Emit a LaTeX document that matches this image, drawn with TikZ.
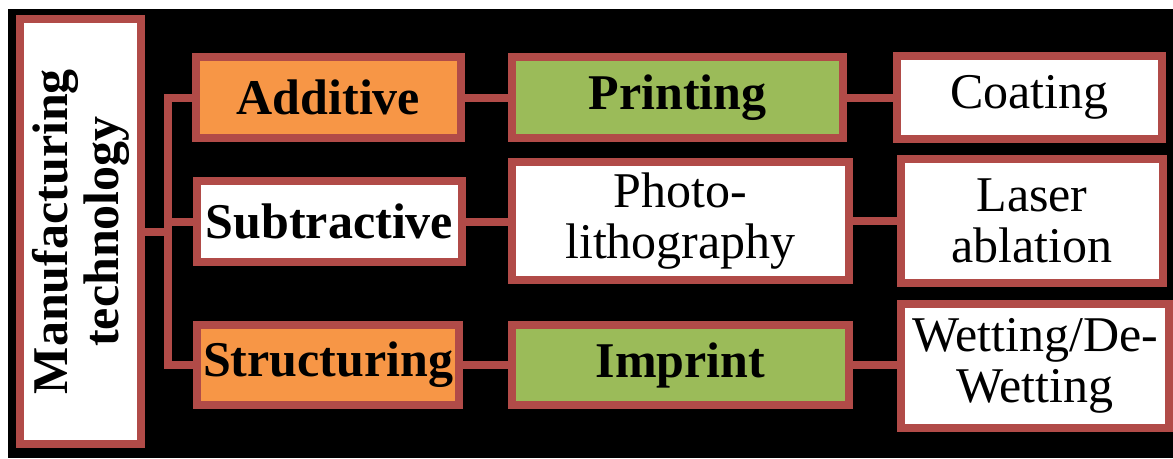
\documentclass[tikz,border=0pt]{standalone}
\usepackage{fontspec}
\setmainfont{Liberation Serif}
\definecolor{edge}{HTML}{B14B48}
\definecolor{orangefill}{HTML}{F79646}
\definecolor{greenfill}{HTML}{9BBB59}
\begin{document}
\begin{tikzpicture}[x=1pt,y=-1pt,
  box/.style={draw=edge,line width=8pt,fill=white,inner sep=0pt,align=center,
    font=\fontsize{50}{51}\selectfont},
  boldbox/.style={box,font=\fontsize{50}{51}\selectfont\bfseries},
  link/.style={draw=edge,line width=8pt,line join=miter}]
  \useasboundingbox (0,0) rectangle (1173,458);
  \fill[black] (8,9) rectangle (1173,458);

  % root (rotated: width runs along the text)
  \node[boldbox,minimum width=425pt,minimum height=121pt,rotate=90] (root) at (80.5,231.5)
    {Manufacturing\\technology};

  % first level
  \node[boldbox,fill=orangefill,minimum width=265pt,minimum height=81pt] (add) at (328.5,97.5) {Additive};
  \node[boldbox,minimum width=265pt,minimum height=81pt] (sub) at (329.5,221.5) {Subtractive};
  \node[boldbox,fill=orangefill,minimum width=262pt,minimum height=80pt] (str) at (328,365) {Structuring};

  % second level
  \node[boldbox,fill=greenfill,minimum width=331pt,minimum height=81pt] (print) at (677.5,97.5) {Printing};
  \node[box,minimum width=337pt,minimum height=118pt] (photo) at (680.5,221) {Photo-\\lithography};
  \node[boldbox,fill=greenfill,minimum width=337pt,minimum height=80pt] (imprint) at (680.5,365) {Imprint};

  % third level
  \node[box,minimum width=265pt,minimum height=83pt] (coat) at (1029.5,97.5) {Coating};
  \node[box,minimum width=262pt,minimum height=124pt] (laser) at (1032,221) {Laser\\ablation};
  \node[box,minimum width=268pt,minimum height=124pt] (wet) at (1035,366) {Wetting/De-\\Wetting};

  % tree connectors
  \coordinate (trunk) at (168,231.5);
  \draw[link] (root.south) -- (trunk);
  \draw[link] (add.west) -- (add.west -| trunk) -- (str.west -| trunk) -- (str.west);
  \draw[link] (sub.west -| trunk) -- (sub.west);
  \draw[link] (add.east) -- (add.east -| print.west);
  \draw[link] (print.east) -- (print.east -| coat.west);
  \draw[link] (sub.east) -- (sub.east -| photo.west);
  \draw[link] (photo.east) -- (photo.east -| laser.west);
  \draw[link] (str.east) -- (str.east -| imprint.west);
  \draw[link] (imprint.east) -- (imprint.east -| wet.west);
\end{tikzpicture}
\end{document}
